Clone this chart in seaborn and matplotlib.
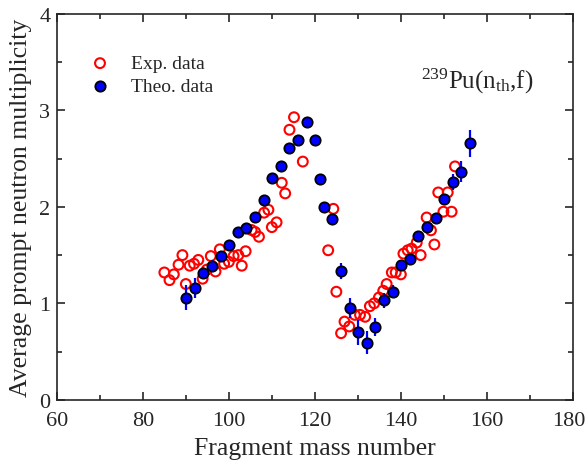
import numpy as np
import pandas as pd
import seaborn as sns
import matplotlib.pyplot as plt
from matplotlib.transforms import ScaledTranslation

# experimental data (open red circles)
exp_mass = [84.9, 86.1, 87.1, 88.2, 89.1, 89.9, 90.8, 91.8, 92.8, 93.8, 94.8, 95.7,
            96.8, 97.8, 98.8, 99.9, 101.0, 102.1, 102.9, 103.8, 105.2, 106.0, 106.9,
            108.1, 109.1, 109.9, 111.0, 112.2, 113.0, 114.0, 115.05, 117.1, 123.0,
            124.2, 124.9, 126.0, 126.8, 127.9, 129.2, 130.4, 131.6, 132.7, 133.7,
            134.8, 135.8, 136.6, 137.8, 138.7, 139.9, 140.5, 141.5, 142.4, 143.6,
            144.5, 145.9, 146.9, 147.7, 148.6, 149.8, 150.8, 151.7, 152.5]
exp_nu = [1.32, 1.24, 1.30, 1.40, 1.50, 1.20, 1.39, 1.41, 1.45, 1.255, 1.35, 1.49,
          1.33, 1.56, 1.41, 1.43, 1.49, 1.50, 1.39, 1.54, 1.76, 1.74, 1.69,
          1.94, 1.97, 1.79, 1.84, 2.25, 2.14, 2.80, 2.93, 2.47, 1.55,
          1.98, 1.12, 0.69, 0.81, 0.76, 0.88, 0.88, 0.86, 0.97, 1.00,
          1.06, 1.13, 1.20, 1.32, 1.32, 1.30, 1.515, 1.55, 1.567, 1.63,
          1.50, 1.89, 1.757, 1.61, 2.15, 1.95, 2.15, 1.95, 2.42]

# theoretical data (filled blue circles with error bars)
theo_mass = [90, 92, 94, 96, 98, 100, 102, 104, 106, 108, 110, 112, 114, 116, 118,
             120, 121, 122, 124, 126, 128, 130, 132, 134, 136, 138, 140, 142, 144,
             146, 148, 150, 152, 154, 156]
theo_nu = [1.06, 1.16, 1.315, 1.39, 1.49, 1.605, 1.74, 1.78, 1.90, 2.075, 2.30, 2.42,
           2.61, 2.69, 2.88, 2.69, 2.29, 2.00, 1.87, 1.335, 0.95, 0.70, 0.59, 0.755,
           1.03, 1.12, 1.40, 1.455, 1.70, 1.79, 1.88, 2.08, 2.26, 2.365, 2.66]
theo_err = [0.13, 0.10, 0.06, 0.06, 0.04, 0.03, 0.03, 0.03, 0.03, 0.03, 0.03, 0.03,
            0.03, 0.03, 0.03, 0.03, 0.03, 0.03, 0.03, 0.087, 0.107, 0.13, 0.12, 0.095,
            0.075, 0.07, 0.04, 0.04, 0.04, 0.04, 0.04, 0.05, 0.08, 0.11, 0.14]

exp_df = pd.DataFrame({"mass": exp_mass, "nu": exp_nu})
theo_df = pd.DataFrame({"mass": theo_mass, "nu": theo_nu, "err": theo_err})

# PLOT SETTING
sns.set_style("ticks")
plt.rcParams["font.family"] = ["Liberation Serif", "DejaVu Serif"]
plt.rcParams["mathtext.fontset"] = "custom"
plt.rcParams["mathtext.rm"] = "Liberation Serif"
plt.rcParams["mathtext.it"] = "Liberation Serif:italic"

fig = plt.figure(figsize=(5.87, 4.64), dpi=100)
ax = fig.add_axes([0.0976, 0.1364, 0.879, 0.8311])

# EXP DATA
sns.scatterplot(data=exp_df, x="mass", y="nu", ax=ax, marker="o", s=50,
                facecolors="none", edgecolor="red", linewidth=1.5,
                label="Exp. data", zorder=2)

# THEO DATA
ax.errorbar(theo_df["mass"], theo_df["nu"], yerr=theo_df["err"], fmt="none",
            ecolor="blue", elinewidth=1.6, capsize=0, zorder=3)
sns.scatterplot(data=theo_df, x="mass", y="nu", ax=ax, marker="o", s=55,
                color="blue", edgecolor="black", linewidth=1.3,
                label="Theo. data", zorder=4)

ax.set_xlim(60, 180)
ax.set_ylim(0, 4)
ax.set_xticks(np.arange(60, 181, 20))
ax.set_xticks(np.arange(70, 180, 20), minor=True)
ax.set_yticks(np.arange(0, 5, 1))
ax.set_yticks(np.arange(0.5, 4, 1), minor=True)
ax.tick_params(which="both", direction="in", top=True, right=True, width=1.2,
               labelsize=16)
ax.tick_params(axis="x", pad=8)
ax.tick_params(axis="y", pad=5)
ax.tick_params(which="major", length=6)
ax.tick_params(which="minor", length=3.5)
for sp in ax.spines.values():
    sp.set_linewidth(1.2)

# keep the last x tick label inside the figure
last = ax.get_xticklabels()[-1]
last.set_transform(last.get_transform() + ScaledTranslation(-4 / 100, 0, fig.dpi_scale_trans))

ax.set_xlabel("Fragment mass number", fontsize=18.5, labelpad=5)
ax.set_ylabel("Average prompt neutron multiplicity", fontsize=18.5, labelpad=5)

ax.text(0.814, 0.828, r"$^{239}$Pu(n$_{\mathrm{th}}$,f)", transform=ax.transAxes,
        ha="center", va="center", fontsize=18)

leg = ax.legend(loc="upper left", bbox_to_anchor=(0.03, 0.915), frameon=False,
                fontsize=14, handletextpad=0.6, labelspacing=0.25,
                borderaxespad=0)

plt.savefig("out.png", dpi=100)
plt.close()
